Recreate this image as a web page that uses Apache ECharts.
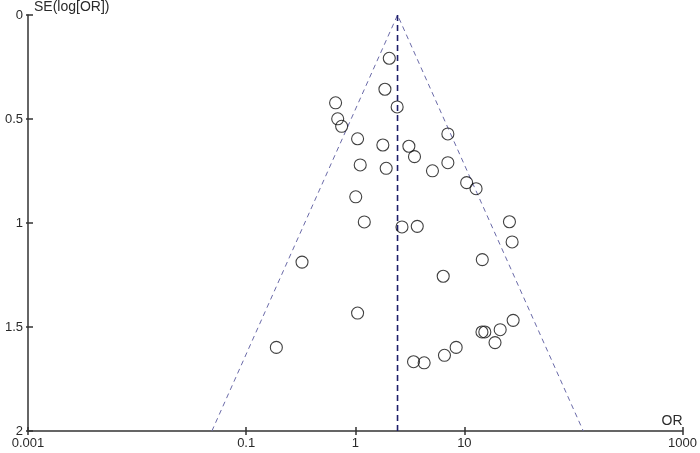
<!DOCTYPE html>
<html>
<head>
<meta charset="utf-8">
<title>Funnel plot</title>
<script src="https://cdn.jsdelivr.net/npm/echarts@6/dist/echarts.min.js"></script>
<style>
  html, body { margin: 0; padding: 0; background: #ffffff; }
  #chart { width: 700px; height: 453px; }
</style>
</head>
<body>
<div id="chart"></div>
<script>
"use strict";

// study estimates: odds ratio and SE(log[OR])
const studyOR = [
    2.05, 1.87, 0.66, 2.42, 0.69, 0.75, 7.06, 1.05, 1.79, 3.10,
    3.49, 1.11, 1.92, 7.06, 5.10, 10.5, 12.8, 1.01, 1.21, 2.68,
    3.70, 25.9, 27.4, 0.325, 14.6, 6.40, 1.05, 0.189, 28.0, 14.5,
    15.4, 21.3, 19.1, 8.41, 6.57, 3.42, 4.28
];
const studySE = [
    0.208, 0.357, 0.422, 0.442, 0.499, 0.535, 0.572, 0.595, 0.625, 0.631,
    0.681, 0.721, 0.737, 0.710, 0.749, 0.806, 0.835, 0.874, 0.995, 1.019,
    1.016, 0.994, 1.091, 1.188, 1.176, 1.256, 1.433, 1.598, 1.468, 1.524,
    1.524, 1.513, 1.575, 1.598, 1.636, 1.667, 1.672
];

// pooled estimate and funnel limits (OR at SE = 0 and SE = 2)
const pooledOR = 2.44;
const funnelLowerOR = 0.0485;
const funnelUpperOR = 123;
const seRange = [0, 2];

// axis ticks
const xTickValues = [0.001, 0.1, 1, 10, 1000];
const xTickLabels = ["0.001", "0.1", "1", "10", "1000"];

const axisColor = "#333333";
const textColor = "#2a2a2a";
const labelFont = { fontFamily: "Liberation Sans, Arial, sans-serif", fontSize: 13, color: textColor };

const lg = v => Math.log10(v);

const points = studyOR.map((or, i) => [lg(or), studySE[i]]);
const xTicks = xTickValues.map(lg);

function xLabel(v){
    const i = xTicks.findIndex(t => Math.abs(t - v) < 1e-6);
    return i >= 0 ? xTickLabels[i] : "";
}

const chart = echarts.init(document.getElementById("chart"), null, { renderer: "canvas" });

const baseX = {
    type: "value", min: -3, max: 3,
    position: "bottom",
    splitLine: { show: false }
};
const baseY = {
    type: "value", min: 0, max: 2, interval: 0.5, inverse: true,
    position: "left",
    splitLine: { show: false }
};

chart.setOption({
    animation: false,
    grid: { left: 28, right: 17, top: 15, bottom: 22, containLabel: false },
    xAxis: [
        Object.assign({}, baseX, {
            name: "OR",
            nameLocation: "end",
            nameGap: 0,
            nameTextStyle: Object.assign({}, labelFont, { fontSize: 14, align: "right", verticalAlign: "bottom", padding: [0, 0, 3, 0] }),
            axisLine: { show: true, onZero: false, lineStyle: { color: axisColor, width: 1.5 } },
            axisTick: { show: true, length: 4, inside: false, customValues: xTicks, lineStyle: { color: axisColor, width: 1.5 } },
            axisLabel: Object.assign({}, labelFont, { customValues: xTicks, margin: 6, formatter: xLabel })
        }),
        Object.assign({}, baseX, {
            axisLine: { show: false, onZero: false },
            axisTick: { show: true, length: 4, inside: true, customValues: xTicks, lineStyle: { color: axisColor, width: 1.5 } },
            axisLabel: { show: false }
        })
    ],
    yAxis: [
        Object.assign({}, baseY, {
            name: "SE(log[OR])",
            nameLocation: "start",
            nameGap: 0,
            nameTextStyle: Object.assign({}, labelFont, { fontSize: 14, align: "left", verticalAlign: "bottom", padding: [0, 0, 1, 6] }),
            axisLine: { show: true, onZero: false, lineStyle: { color: axisColor, width: 1.5 } },
            axisTick: { show: true, length: 2, inside: false, lineStyle: { color: axisColor, width: 1.5 } },
            axisLabel: Object.assign({}, labelFont, { margin: 5 })
        }),
        Object.assign({}, baseY, {
            axisLine: { show: false, onZero: false },
            axisTick: { show: true, length: 5, inside: true, lineStyle: { color: axisColor, width: 1.5 } },
            axisLabel: { show: false }
        })
    ],
    series: [
        {
            name: "funnel",
            type: "line",
            silent: true,
            symbol: "none",
            data: [[lg(funnelLowerOR), seRange[1]], [lg(pooledOR), seRange[0]], [lg(funnelUpperOR), seRange[1]]],
            lineStyle: { color: "#6a6aa8", width: 1, type: [5, 4] },
            z: 1
        },
        {
            name: "pooled",
            type: "line",
            silent: true,
            symbol: "none",
            data: [[lg(pooledOR), seRange[0]], [lg(pooledOR), seRange[1]]],
            lineStyle: { color: "#1c1c6a", width: 1.6, type: [6, 4] },
            z: 2
        },
        {
            name: "studies",
            type: "scatter",
            symbol: "circle",
            symbolSize: 12,
            data: points,
            itemStyle: { color: "rgba(0,0,0,0)", borderColor: "#111111", borderWidth: 1.1 },
            z: 3
        }
    ]
});
</script>
</body>
</html>
